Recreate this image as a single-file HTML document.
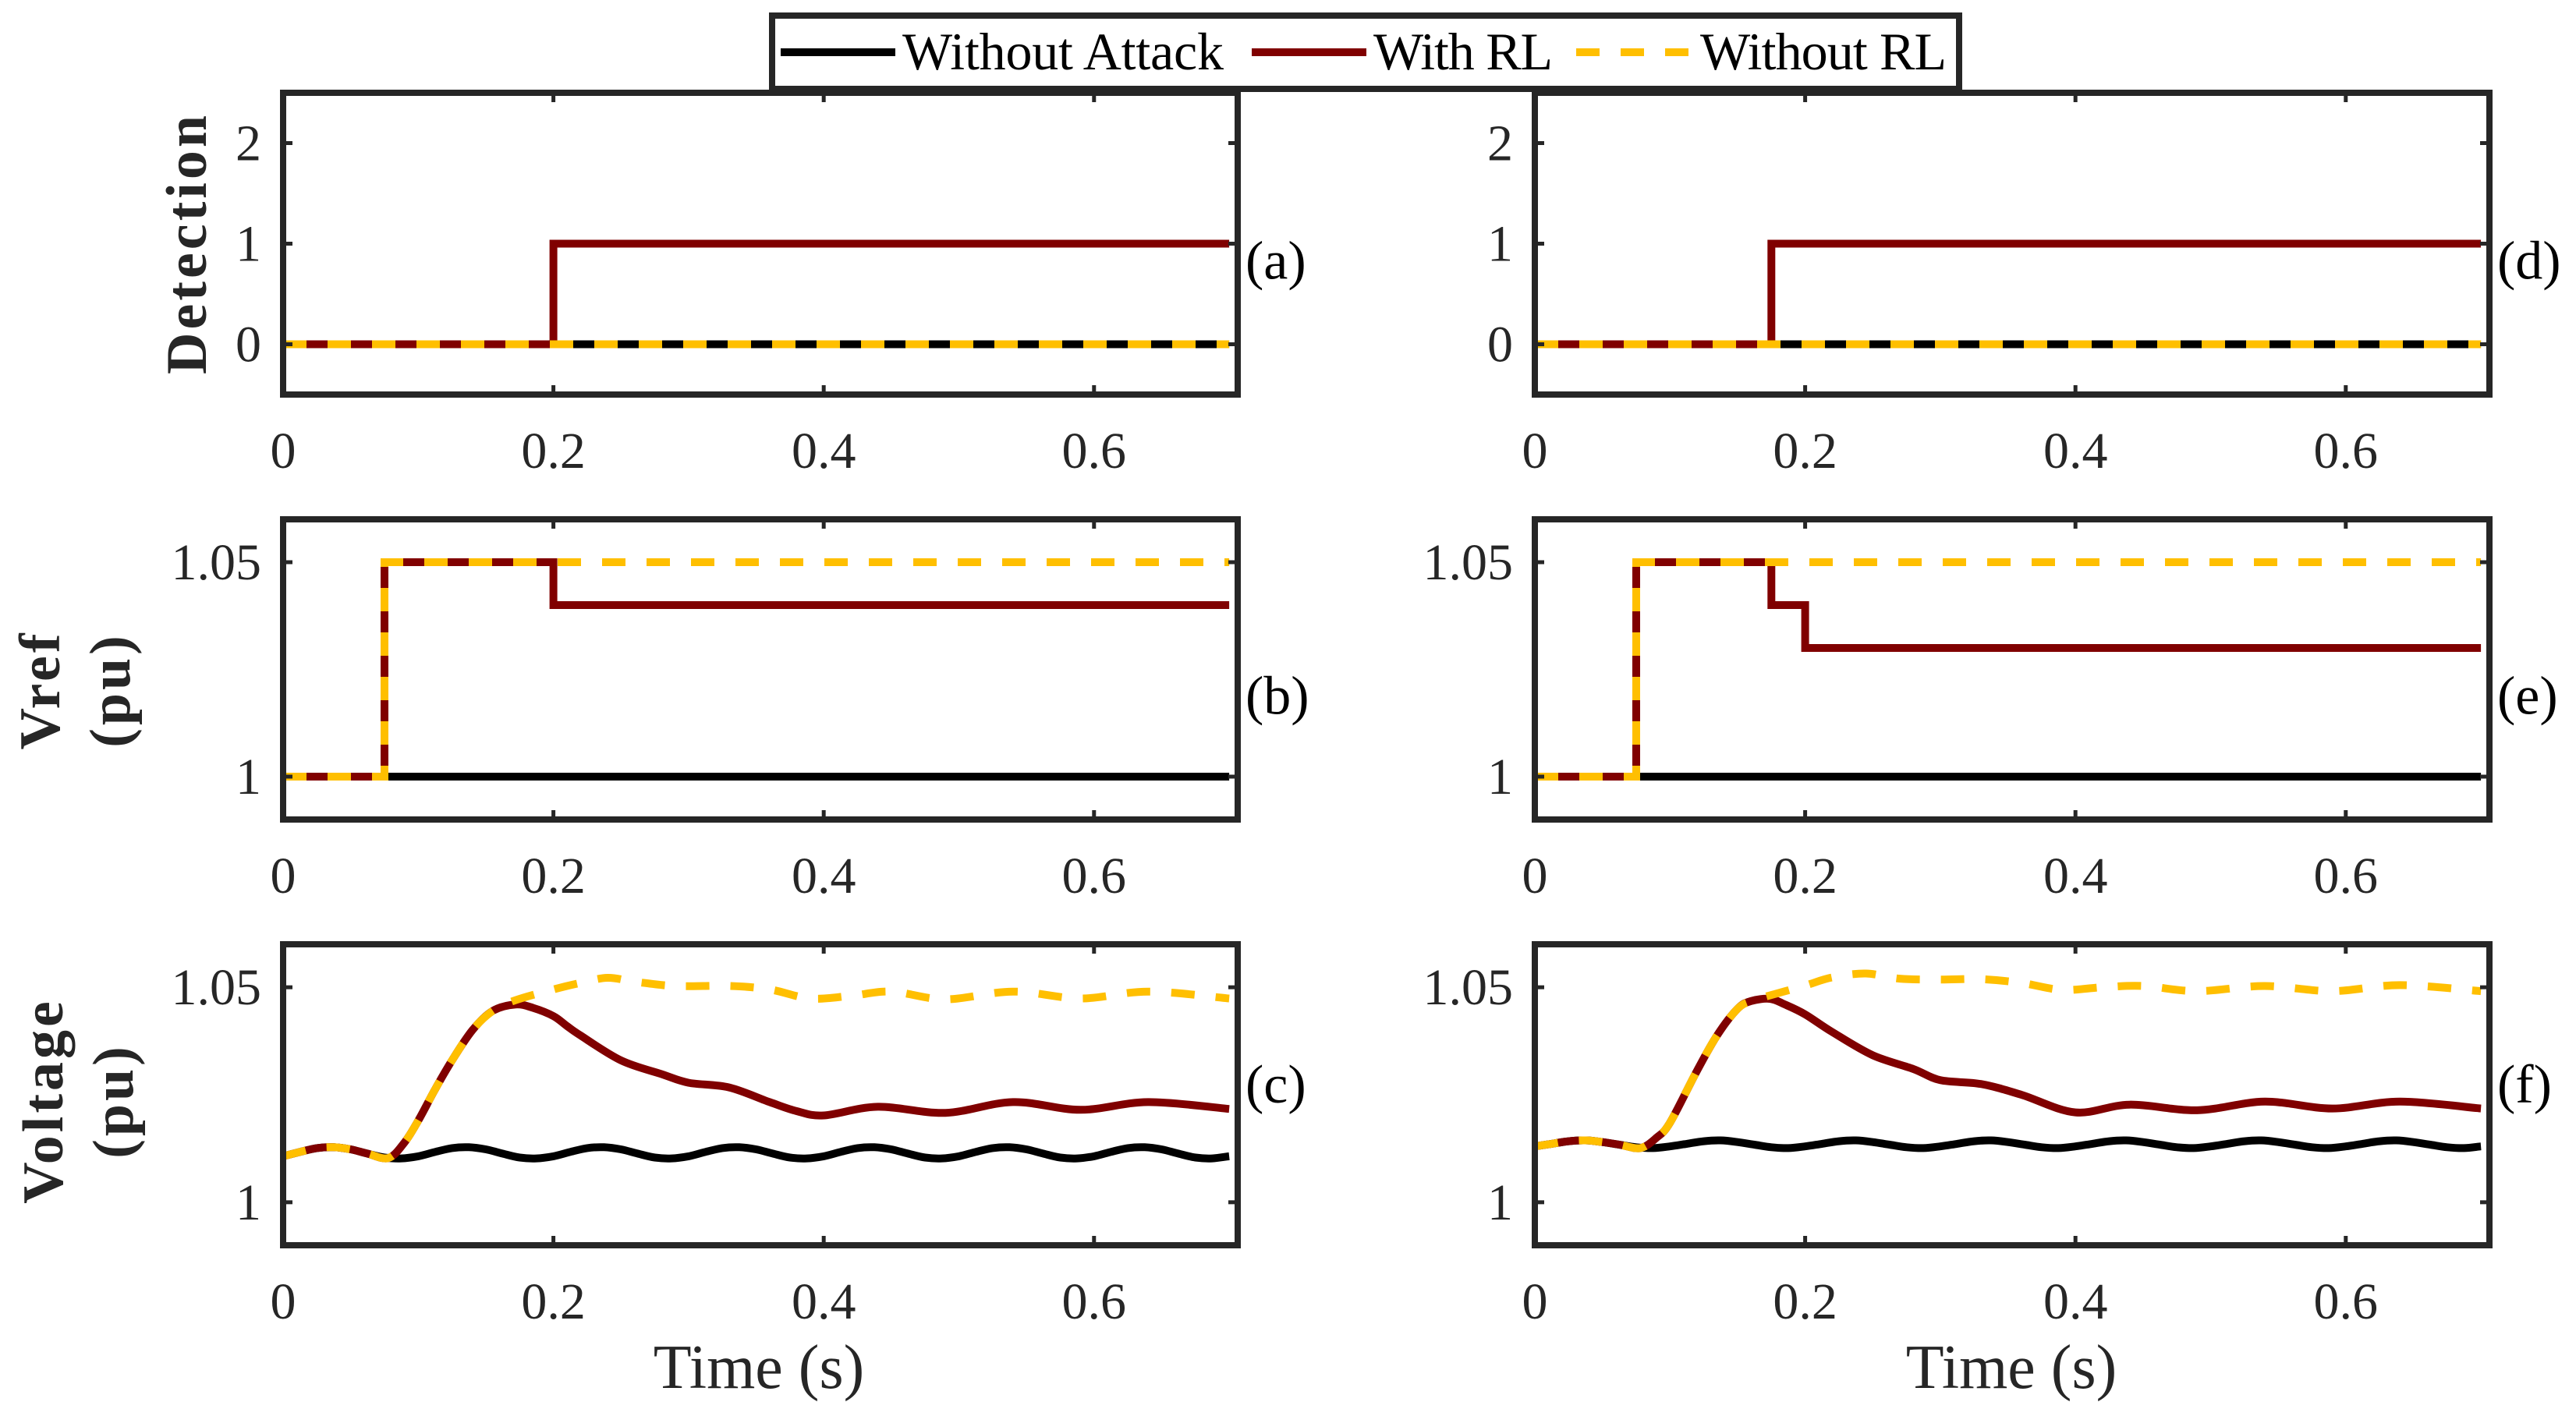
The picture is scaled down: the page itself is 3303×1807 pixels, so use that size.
<!DOCTYPE html>
<html><head><meta charset="utf-8"><style>
html,body{margin:0;padding:0;background:#fff;}
svg{display:block;font-family:"Liberation Serif",serif;}
</style></head><body>
<svg id="fig" width="3303" height="1807" viewBox="0 0 3303 1807" xmlns="http://www.w3.org/2000/svg">
<rect width="3303" height="1807" fill="#fff"/>
<g>
<rect x="990" y="20" width="1522" height="94" fill="#fff" stroke="#262626" stroke-width="8"/>
<line x1="1001" y1="67" x2="1148" y2="67" stroke="#000" stroke-width="10"/>
<text x="1157" y="89" font-size="68" textLength="412">Without Attack</text>
<line x1="1605" y1="67" x2="1752" y2="67" stroke="#800000" stroke-width="10"/>
<text x="1761" y="89" font-size="68" textLength="230">With RL</text>
<line x1="2021" y1="67" x2="2172" y2="67" stroke="#FFBF00" stroke-width="10" stroke-dasharray="30 27"/>
<text x="2180" y="89" font-size="68" textLength="316">Without RL</text>
</g>
<g id="plots"></g>
</svg>
<script>
// ---- data ----
const xTicks = [0, 0.2, 0.4, 0.6];
const xTickLabels = ["0", "0.2", "0.4", "0.6"];
const detTicks = [0, 1, 2];
const detTickLabels = ["0", "1", "2"];
const puTicks = [1, 1.05];
const puTickLabels = ["1", "1.05"];

// Detection (a)/(d): step series
const detBlackT = [0, 0.7];
const detBlackV = [0, 0];
const detRedAT = [0, 0.2, 0.2, 0.7];
const detRedAV = [0, 0, 1, 1];
const detRedDT = [0, 0.175, 0.175, 0.7];
const detRedDV = [0, 0, 1, 1];
const detYellowT = [0, 0.7];
const detYellowV = [0, 0];

// Vref (b)/(e)
const vrefBlackT = [0, 0.7];
const vrefBlackV = [1, 1];
const vrefRedBT = [0, 0.075, 0.075, 0.2, 0.2, 0.7];
const vrefRedBV = [1, 1, 1.05, 1.05, 1.04, 1.04];
const vrefRedET = [0, 0.075, 0.075, 0.175, 0.175, 0.2, 0.2, 0.7];
const vrefRedEV = [1, 1, 1.05, 1.05, 1.04, 1.04, 1.03, 1.03];
const vrefYellowT = [0, 0.075, 0.075, 0.7];
const vrefYellowV = [1, 1, 1.05, 1.05];

// Voltage (c)
const voltBlackCT = [0,0.0125,0.025,0.0375,0.05,0.0625,0.075,0.0875,0.1,0.1125,0.125,0.1375,0.15,0.1625,0.175,0.1875,0.2,0.2125,0.225,0.2375,0.25,0.2625,0.275,0.2875,0.3,0.3125,0.325,0.3375,0.35,0.3625,0.375,0.3875,0.4,0.4125,0.425,0.4375,0.45,0.4625,0.475,0.4875,0.5,0.5125,0.525,0.5375,0.55,0.5625,0.575,0.5875,0.6,0.6125,0.625,0.6375,0.65,0.6625,0.675,0.6875,0.7];
const voltBlackCV = [1.0107,1.0117,1.0126,1.0128,1.0123,1.0113,1.0104,1.0102,1.0107,1.0117,1.0126,1.0128,1.0123,1.0113,1.0104,1.0102,1.0107,1.0117,1.0126,1.0128,1.0123,1.0113,1.0104,1.0102,1.0107,1.0117,1.0126,1.0128,1.0123,1.0113,1.0104,1.0102,1.0107,1.0117,1.0126,1.0128,1.0123,1.0113,1.0104,1.0102,1.0107,1.0117,1.0126,1.0128,1.0123,1.0113,1.0104,1.0102,1.0107,1.0117,1.0126,1.0128,1.0123,1.0113,1.0104,1.0102,1.0107];
const voltRedCT = [0,0.0125,0.025,0.0375,0.05,0.0625,0.078,0.09,0.1,0.112,0.125,0.14,0.155,0.172,0.185,0.2,0.21,0.22,0.25,0.28,0.3,0.33,0.36,0.38,0.4,0.44,0.49,0.54,0.59,0.64,0.7];
const voltRedCV = [1.0107,1.0117,1.0126,1.0128,1.0123,1.0113,1.0103,1.014,1.019,1.026,1.033,1.040,1.0445,1.046,1.0452,1.0433,1.041,1.0388,1.033,1.0298,1.0278,1.0267,1.0233,1.0212,1.0202,1.0222,1.0208,1.0233,1.0215,1.0233,1.0217];
const voltYellowCT = [0,0.0125,0.025,0.0375,0.05,0.0625,0.078,0.09,0.1,0.112,0.125,0.14,0.155,0.172,0.2,0.22,0.24,0.26,0.29,0.33,0.36,0.39,0.42,0.45,0.49,0.54,0.59,0.64,0.7];
const voltYellowCV = [1.0107,1.0117,1.0126,1.0128,1.0123,1.0113,1.0103,1.014,1.019,1.026,1.033,1.040,1.0445,1.047,1.0495,1.051,1.0522,1.0513,1.0503,1.0503,1.0495,1.0474,1.048,1.049,1.0472,1.049,1.0474,1.049,1.0474];

// Voltage (f)
const voltBlackFT = voltBlackCT;
const voltBlackFV = [1.0130,1.0136,1.0142,1.0144,1.0140,1.0134,1.0128,1.0126,1.0130,1.0136,1.0142,1.0144,1.0140,1.0134,1.0128,1.0126,1.0130,1.0136,1.0142,1.0144,1.0140,1.0134,1.0128,1.0126,1.0130,1.0136,1.0142,1.0144,1.0140,1.0134,1.0128,1.0126,1.0130,1.0136,1.0142,1.0144,1.0140,1.0134,1.0128,1.0126,1.0130,1.0136,1.0142,1.0144,1.0140,1.0134,1.0128,1.0126,1.0130,1.0136,1.0142,1.0144,1.0140,1.0134,1.0128,1.0126,1.0130];
const voltRedFT = [0,0.0125,0.025,0.0375,0.05,0.0625,0.078,0.09,0.1,0.12,0.135,0.15,0.16,0.174,0.185,0.2,0.22,0.25,0.28,0.3,0.33,0.36,0.4,0.44,0.49,0.54,0.59,0.64,0.7];
const voltRedFV = [1.0130,1.0136,1.0142,1.0144,1.0140,1.0134,1.0126,1.015,1.0185,1.0306,1.0389,1.045,1.0468,1.0473,1.046,1.0437,1.0396,1.0342,1.031,1.0284,1.0275,1.025,1.0209,1.0227,1.0214,1.0234,1.0218,1.0234,1.0218];
const voltYellowFT = [0,0.0125,0.025,0.0375,0.05,0.0625,0.078,0.09,0.1,0.12,0.135,0.15,0.16,0.175,0.2,0.22,0.245,0.27,0.3,0.33,0.36,0.39,0.42,0.45,0.49,0.54,0.59,0.64,0.7];
const voltYellowFV = [1.0130,1.0136,1.0142,1.0144,1.0140,1.0134,1.0126,1.015,1.0185,1.0306,1.0389,1.045,1.0468,1.0482,1.0504,1.0523,1.0532,1.052,1.0518,1.0519,1.051,1.0494,1.05,1.0503,1.0491,1.0503,1.0491,1.0505,1.0491];

// ---- drawing ----
const NS = "http://www.w3.org/2000/svg";
const root = document.getElementById("plots");
const XMAX = 0.7063;
const rows = [{top:119,bot:506},{top:666,bot:1051},{top:1211,bot:1597}];
const cols = [{left:363,right:1587},{left:1968,right:3192}];
const ylims = [[-0.5,2.5],[0.99,1.06],[0.99,1.06]];
const COL = {black:"#000000", red:"#800000", yellow:"#FFBF00"};

function mk(tag, attrs, parent){
  const e = document.createElementNS(NS, tag);
  for (const k in attrs) e.setAttribute(k, attrs[k]);
  parent.appendChild(e);
  return e;
}
function xScale(c){ return t => c.left + (t / XMAX) * (c.right - c.left); }
function yScale(r, lim){ return v => r.bot - (v - lim[0]) / (lim[1] - lim[0]) * (r.bot - r.top); }

function polyPath(T, V, xs, ys){
  return T.map((t,i)=>(i?"L":"M")+xs(t).toFixed(1)+" "+ys(V[i]).toFixed(1)).join(" ");
}
function smoothPath(T, V, xs, ys){
  const P = T.map((t,i)=>[xs(t), ys(V[i])]);
  let d = "M"+P[0][0].toFixed(1)+" "+P[0][1].toFixed(1);
  for (let i=0;i<P.length-1;i++){
    const p0=P[Math.max(0,i-1)], p1=P[i], p2=P[i+1], p3=P[Math.min(P.length-1,i+2)];
    const c1=[p1[0]+(p2[0]-p0[0])/6, p1[1]+(p2[1]-p0[1])/6];
    const c2=[p2[0]-(p3[0]-p1[0])/6, p2[1]-(p3[1]-p1[1])/6];
    d += " C"+c1[0].toFixed(1)+" "+c1[1].toFixed(1)+" "+c2[0].toFixed(1)+" "+c2[1].toFixed(1)+" "+p2[0].toFixed(1)+" "+p2[1].toFixed(1);
  }
  return d;
}

const panels = [
  {r:0,c:0,label:"(a)",series:[[detBlackT,detBlackV,"black"],[detRedAT,detRedAV,"red"],[detYellowT,detYellowV,"yellow"]],smooth:false},
  {r:1,c:0,label:"(b)",series:[[vrefBlackT,vrefBlackV,"black"],[vrefRedBT,vrefRedBV,"red"],[vrefYellowT,vrefYellowV,"yellow"]],smooth:false},
  {r:2,c:0,label:"(c)",series:[[voltBlackCT,voltBlackCV,"black"],[voltRedCT,voltRedCV,"red"],[voltYellowCT,voltYellowCV,"yellow"]],smooth:true},
  {r:0,c:1,label:"(d)",series:[[detBlackT,detBlackV,"black"],[detRedDT,detRedDV,"red"],[detYellowT,detYellowV,"yellow"]],smooth:false},
  {r:1,c:1,label:"(e)",series:[[vrefBlackT,vrefBlackV,"black"],[vrefRedET,vrefRedEV,"red"],[vrefYellowT,vrefYellowV,"yellow"]],smooth:false},
  {r:2,c:1,label:"(f)",series:[[voltBlackFT,voltBlackFV,"black"],[voltRedFT,voltRedFV,"red"],[voltYellowFT,voltYellowFV,"yellow"]],smooth:true}
];
const labelDy = [37, 49, 2];

panels.forEach(p=>{
  const r = rows[p.r], c = cols[p.c], lim = ylims[p.r];
  const xs = xScale(c), ys = yScale(r, lim);
  const g = mk("g", {}, root);
  
  
  const clipId = "clip"+p.r+p.c;
  const cp = mk("clipPath", {id:clipId}, g);
  mk("rect", {x:c.left, y:r.top, width:c.right-c.left, height:r.bot-r.top}, cp);
  const sg = mk("g", {"clip-path":"url(#"+clipId+")"}, g);
  p.series.forEach(s=>{
    const d = p.smooth ? smoothPath(s[0], s[1], xs, ys) : polyPath(s[0], s[1], xs, ys);
    const path = mk("path", {d:d, fill:"none", stroke:COL[s[2]], "stroke-width":10, "stroke-linejoin":"miter"}, sg);
    if (s[2]==="yellow") path.setAttribute("stroke-dasharray","30 27");
    
    
  });
  const box = mk("rect", {x:c.left, y:r.top, width:c.right-c.left, height:r.bot-r.top, fill:"none", stroke:"#262626", "stroke-width":8}, g);
  
  
  xTicks.forEach((t,i)=>{
    const x = xs(t);
    mk("line",{x1:x,y1:r.bot,x2:x,y2:r.bot-12,stroke:"#262626","stroke-width":5},g);
    mk("line",{x1:x,y1:r.top,x2:x,y2:r.top+12,stroke:"#262626","stroke-width":5},g);
    const tx = mk("text",{x:x,y:r.bot+94,"font-size":66,"text-anchor":"middle",fill:"#262626"},g);
    tx.textContent = xTickLabels[i];
    
    
  });
  const yt = p.r===0 ? detTicks : puTicks;
  const ytl = p.r===0 ? detTickLabels : puTickLabels;
  yt.forEach((v,i)=>{
    const y = ys(v);
    mk("line",{x1:c.left,y1:y,x2:c.left+12,y2:y,stroke:"#262626","stroke-width":5},g);
    mk("line",{x1:c.right,y1:y,x2:c.right-12,y2:y,stroke:"#262626","stroke-width":5},g);
    const tx = mk("text",{x:c.left-28,y:y+22,"font-size":66,"text-anchor":"end",fill:"#262626"},g);
    tx.textContent = ytl[i];
    
    
  });
  const pl = mk("text",{x:c.right+10,y:(r.top+r.bot)/2+labelDy[p.r]+8,"font-size":70,fill:"#000"},g);
  pl.textContent = p.label;
  
  
});

function ytitle(lines, cx, cy, name){
  const t = mk("text",{transform:"translate("+cx+","+cy+") rotate(-90)","font-size":74,"text-anchor":"middle","font-weight":"bold","letter-spacing":"4",fill:"#262626"},root);
  lines.forEach((ln,i)=>{
    const ts = mk("tspan",{x:0,dy:i===0?(lines.length===1?24:-20):90},t);
    ts.textContent = ln;
  });
  
  
}
ytitle(["Detection"], 240, 312, "y-axis-title-detection");
ytitle(["Vref","(pu)"], 96, 885, "y-axis-title-vref");
ytitle(["Voltage","(pu)"], 100, 1412, "y-axis-title-voltage");

[973, 2579].forEach((cx,i)=>{
  const t = mk("text",{x:cx,y:1780,"font-size":80,"text-anchor":"middle",fill:"#262626"},root);
  t.textContent = "Time (s)";
  
  
});
</script>
</body></html>
